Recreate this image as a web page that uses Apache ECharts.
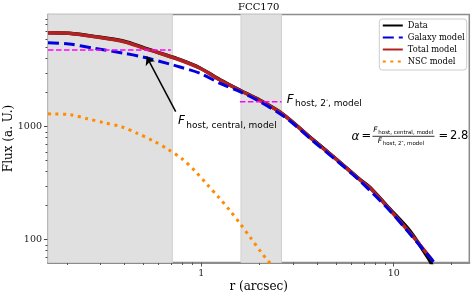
<!DOCTYPE html>
<html><head><meta charset="utf-8">
<script src="https://cdn.jsdelivr.net/npm/echarts@6/dist/echarts.min.js"></script>
<style>html,body{margin:0;padding:0;background:#fff}#c{width:473px;height:296px}</style>
</head><body><div id="c"></div>
<script>
// ---- data (r in arcsec, flux in a.U.) ----
const dataR      = [0.1597,0.2053,0.277,0.3964,0.5039,0.6099,0.7749,0.9845,1.251,1.589,2.019,2.504,2.891,3.807,5.073,6.682,7.531,9.567,12.15,15.5,15.9];
const dataFlux   = [6790,6710,6300,5700,4990,4480,3920,3310,2600,2100,1715,1385,1150,768,510,340,290,186,119,64,58];
const galaxyR    = [0.1597,0.2053,0.277,0.3964,0.5039,0.6934,0.7749,0.9845,1.251,1.589,2.019,2.504,2.891,3.807,5.073,6.682,9.567,12.15,16.4];
const galaxyFlux = [5539,5393,4941,4463,4114,3566,3376,2969,2422,2040,1664,1336,1123,747,497,330.7,179.5,112.3,61.6];
const totalR     = [0.1597,0.2053,0.277,0.3964,0.5039,0.6099,0.7749,0.9845,1.251,1.589,2.019,2.504,2.891,3.807,5.073,6.682,7.531,9.567,12.15,15.82];
const totalFlux  = [6790,6707,6259,5652,4941,4463,3893,3287,2590,2091,1706,1377,1146,762,507,337.5,286.8,183.1,114.6,66.1];
const nscR       = [0.1597,0.1695,0.2077,0.2556,0.312,0.3838,0.465,0.561,0.6713,0.7965,0.9274,1.067,1.226,1.405,1.595,1.806,2.043,2.177,2.416];
const nscFlux    = [1300,1296,1277,1177,1085,1000,874,752,631,518,405,311,239,182,138,103.5,77.8,67.5,55.6];

const regionCentral = [0.1597, 0.707];
const region2       = [1.607, 2.61];
const fHostCentral  = 4773;
const fHost2        = 1664;
const arrowFrom     = [0.736, 1358];
const arrowTo       = [0.520, 4165];

const xMajorTicks = [1, 10];
const xMinorTicks = [0.2,0.3,0.4,0.5,0.6,0.7,0.8,0.9,2,3,4,5,6,7,8,9,20];
const yMajorTicks = [100, 1000];
const yMinorTicks = [70,80,90,200,300,400,500,600,700,800,900,2000,3000,4000,5000,6000,7000,8000,9000];

const X0 = 0.1597, X1 = 24.7, Y0 = 62.8, Y1 = 9858;
const pairs = (xs, ys) => xs.map((x, i) => [x, ys[i]]);

const serif = 'DejaVu Serif';

const chart = echarts.init(document.getElementById('c'), null, {renderer: 'canvas'});

function xAxisDef(major) {
  return {
    type: 'log', logBase: 10, min: X0, max: X1, gridIndex: 0, position: 'bottom',
    name: major ? 'r (arcsec)' : '', nameLocation: 'middle', nameGap: 18, nameMoveOverlap: false,
    nameTextStyle: {fontFamily: serif, fontSize: 12, color: '#000'},
    axisLine: {show: major, onZero: false, lineStyle: {color: '#8c8c8c', width: 2}},
    axisTick: {show: true, inside: false, length: major ? 4 : 2.5, customValues: major ? xMajorTicks : xMinorTicks,
               lineStyle: {color: '#555', width: 1}},
    axisLabel: {show: major, customValues: xMajorTicks, margin: 6, fontFamily: serif, fontSize: 9.5, color: '#222',
                formatter: v => String(Math.round(v))},
    splitLine: {show: false}, minorTick: {show: false}, minorSplitLine: {show: false}
  };
}
function yAxisDef(major) {
  return {
    type: 'log', logBase: 10, min: Y0, max: Y1, gridIndex: 0, position: 'left',
    name: major ? 'Flux (a. U.)' : '', nameLocation: 'middle', nameGap: 33.5, nameRotate: 90, nameMoveOverlap: false,
    nameTextStyle: {fontFamily: serif, fontSize: 12, color: '#000'},
    axisLine: {show: major, onZero: false, lineStyle: {color: '#444', width: 1.2}},
    axisTick: {show: true, inside: false, length: major ? 4 : 2.5, customValues: major ? yMajorTicks : yMinorTicks,
               lineStyle: {color: '#444', width: 1}},
    axisLabel: {show: major, customValues: yMajorTicks, margin: 6, fontFamily: serif, fontSize: 9.5, color: '#222',
                formatter: v => String(Math.round(v))},
    splitLine: {show: false}, minorTick: {show: false}, minorSplitLine: {show: false}
  };
}

const T = (text, x, y, font, extra) => Object.assign({type: 'text', silent: true, z: 100,
  style: Object.assign({text: text, x: x, y: y, verticalAlign: 'middle', font: font, fill: '#000'}, extra || {})});

const option = {
  animation: false,
  backgroundColor: '#fff',
  grid: {left: 48, top: 14.4, right: 3.7, bottom: 33.5, show: true, borderColor: '#8c8c8c', borderWidth: 1.5,
         backgroundColor: 'transparent', containLabel: false, outerBoundsMode: 'none'},
  xAxis: [xAxisDef(true), xAxisDef(false)],
  yAxis: [yAxisDef(true), yAxisDef(false)],
  legend: {
    orient: 'vertical', left: 379.3, top: 19, padding: [2.5, 2, 4.5, 2.5],
    itemWidth: 20, itemHeight: 8, itemGap: 4,
    itemStyle: {opacity: 0},
    backgroundColor: 'rgba(255,255,255,0.85)', borderColor: '#cccccc', borderWidth: 1, borderRadius: 3,
    textStyle: {fontFamily: serif, fontSize: 8.3, color: '#000'},
    data: ['Data', 'Galaxy model', 'Total model', 'NSC model'],
    selectedMode: false
  },
  graphic: [
    T('FCC170', 258.7, 7, '10px "DejaVu Serif"', {align: 'center'}),
    // F_host,central,model label
    T('F', 178, 121.3, 'italic 12px "DejaVu Sans"'),
    T('host, central, model', 186.3, 126, '9px "DejaVu Sans"'),
    // F_host,2",model label
    T('F', 286.7, 99.5, 'italic 12px "DejaVu Sans"'),
    T('{a|host, 2}{s|″}{a|, model}', 295, 104, '9px "DejaVu Sans"',
      {rich: {a: {font: '9px "DejaVu Sans"', fill: '#000'}, s: {font: '6px "DejaVu Sans"', fill: '#000', verticalAlign: 'top'}}}),
    // alpha formula
    T('α', 351.5, 136.5, 'italic 12px "DejaVu Sans"'),
    T('=', 361.5, 136, '11.5px "DejaVu Sans"'),
    T('F', 373.3, 130, 'italic 7.5px "DejaVu Sans"'),
    T('host, central, model', 378.3, 132.3, '5.5px "DejaVu Sans"'),
    {type: 'line', silent: true, z: 100, shape: {x1: 372.5, y1: 136.3, x2: 434.5, y2: 136.3}, style: {stroke: '#000', lineWidth: 0.8}},
    T('F', 377.7, 141.3, 'italic 7.5px "DejaVu Sans"'),
    T('host, 2″, model', 382.7, 143.5, '5.5px "DejaVu Sans"'),
    T('=', 438.5, 136, '11.5px "DejaVu Sans"'),
    T('2.8', 450, 136, '11.5px "DejaVu Sans"')
  ],
  series: [
    {
      name: 'Data', type: 'line', xAxisIndex: 0, yAxisIndex: 0, data: pairs(dataR, dataFlux),
      symbol: 'none', smooth: 0.3, z: 2, lineStyle: {color: '#000', width: 3.5}, itemStyle: {color: '#000'},
      markArea: {silent: true, itemStyle: {color: '#e0e0e0', borderColor: '#d0d0d0', borderWidth: 1},
        data: [[{xAxis: regionCentral[0]}, {xAxis: regionCentral[1]}], [{xAxis: region2[0]}, {xAxis: region2[1]}]]}
    },
    {
      name: 'Total model', type: 'line', data: pairs(totalR, totalFlux), symbol: 'none', smooth: 0.3, z: 3,
      lineStyle: {color: '#b22222', width: 3.5}, itemStyle: {color: '#b22222'}
    },
    {
      name: 'Galaxy model', type: 'line', data: pairs(galaxyR, galaxyFlux), symbol: 'none', smooth: 0.3, z: 4,
      lineStyle: {color: '#0000e0', width: 3, type: [11, 5], cap: 'butt'}, itemStyle: {color: '#0000e0'}
    },
    {
      name: 'NSC model', type: 'line', data: pairs(nscR, nscFlux), symbol: 'none', smooth: 0.3, z: 4,
      lineStyle: {color: '#ff8c00', width: 3, type: [3, 4.5], cap: 'butt'}, itemStyle: {color: '#ff8c00'}
    },
    {
      name: 'hostCentral', type: 'line', data: [[regionCentral[0], fHostCentral], [0.694, fHostCentral]], symbol: 'none', z: 5,
      lineStyle: {color: '#ff00ff', width: 1.5, type: [5.5, 2.5]}, itemStyle: {color: '#ff00ff'}
    },
    {
      name: 'host2', type: 'line', data: [[region2[0] - 0.02, fHost2], [region2[1], fHost2]], symbol: 'none', z: 5,
      lineStyle: {color: '#ff00ff', width: 1.5, type: [5.5, 2.5]}, itemStyle: {color: '#ff00ff'}
    },
    {
      name: 'arrow', type: 'line', data: [], z: 6,
      markLine: {silent: true, animation: false, symbolSize: 8, label: {show: false},
        lineStyle: {color: '#000', width: 1.5, type: 'solid'},
        data: [[{coord: arrowFrom, symbol: 'none'}, {coord: arrowTo, symbol: 'arrow'}]]}
    }
  ]
};
chart.setOption(option);
</script>
</body></html>
